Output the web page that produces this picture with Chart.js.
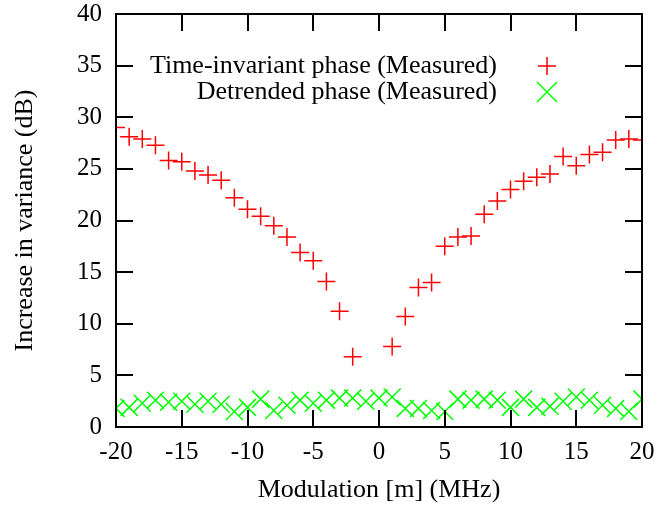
<!DOCTYPE html>
<html>
<head>
<meta charset="utf-8">
<script src="https://cdn.jsdelivr.net/npm/chart.js@4.4.1/dist/chart.umd.min.js"></script>
<style>
    body { margin: 0; background: #ffffff; }
    #wrap { width: 661px; height: 506px; }
</style>
</head>
<body>
<div id="wrap"><canvas id="varianceChart" width="661" height="506"></canvas></div>
<script>
// Modulation frequency (MHz) for each measurement
const modulationTimeInvariant = [
    -20, -19, -18, -17, -16, -15, -14, -13, -12, -11, -10, -9, -8, -7, -6, -5, -4, -3, -2,
    1, 2, 3, 4, 5, 6, 7, 8, 9, 10, 11, 12, 13, 14, 15, 16, 17, 18, 19, 20
];
const timeInvariantPhase = [
    29.0, 28.1, 27.9, 27.3, 25.8, 25.7, 24.8, 24.4, 23.9, 22.2, 21.1, 20.4, 19.5, 18.4, 16.9, 16.1, 14.1, 11.2, 6.8,
    7.8, 10.7, 13.5, 14.0, 17.5, 18.4, 18.5, 20.6, 21.9, 23.0, 23.8, 24.2, 24.5, 26.2, 25.3, 26.4, 26.6, 27.8, 27.9, 27.8
];

const modulationDetrended = [
    -20, -19, -18, -17, -16, -15, -14, -13, -12, -11, -10, -9, -8, -7, -6, -5, -4, -3, -2, -1,
    0, 1, 2, 3, 4, 5, 6, 7, 8, 9, 10, 11, 12, 13, 14, 15, 16, 17, 18, 19, 20
];
const detrendedPhase = [
    1.8, 1.9, 2.3, 2.6, 2.4, 2.5, 2.2, 2.5, 2.2, 1.5, 1.9, 2.7, 1.6, 2.1, 2.6, 2.3, 2.6, 2.8, 2.8, 2.5,
    2.8, 2.9, 1.8, 1.8, 1.6, 1.5, 2.7, 2.6, 2.7, 2.6, 1.9, 2.7, 1.9, 2.0, 2.5, 2.9, 2.6, 2.1, 1.8, 1.5, 2.7
];

const xTickValues = [-20, -15, -10, -5, 0, 5, 10, 15, 20];
const yTickValues = [0, 5, 10, 15, 20, 25, 30, 35, 40];

const serif = "'Liberation Serif', 'DejaVu Serif', serif";

function toPoints(xs, ys) {
    return xs.map((x, i) => ({ x: x, y: ys[i] }));
}

// gnuplot style frame with inward ticks on all four sides
const framePlugin = {
    id: 'frame',
    afterDraw(chart) {
        const ctx = chart.ctx;
        const area = chart.chartArea;
        const xs = chart.scales.x;
        const ys = chart.scales.y;
        const tick = 17;

        ctx.save();
        ctx.strokeStyle = '#000000';
        ctx.lineWidth = 2;
        ctx.beginPath();
        xTickValues.forEach(v => {
            const px = Math.round(xs.getPixelForValue(v));
            ctx.moveTo(px, area.bottom);
            ctx.lineTo(px, area.bottom - tick);
            ctx.moveTo(px, area.top);
            ctx.lineTo(px, area.top + tick);
        });
        yTickValues.forEach(v => {
            const py = Math.round(ys.getPixelForValue(v));
            ctx.moveTo(area.left, py);
            ctx.lineTo(area.left + tick, py);
            ctx.moveTo(area.right, py);
            ctx.lineTo(area.right - tick, py);
        });
        ctx.stroke();
        ctx.strokeRect(area.left, area.top, area.right - area.left, area.bottom - area.top);
        ctx.restore();
    }
};

// legend drawn inside the plot: text right-aligned, symbol on the right
const keyPlugin = {
    id: 'key',
    afterDraw(chart) {
        const ctx = chart.ctx;
        const area = chart.chartArea;
        const textRight = area.right - 145;
        const symX = area.right - 95;
        let y = area.top + 52;

        ctx.save();
        ctx.font = '26px ' + serif;
        ctx.textAlign = 'right';
        ctx.textBaseline = 'middle';
        chart.data.datasets.forEach(ds => {
            ctx.fillStyle = '#000000';
            ctx.fillText(ds.label, textRight, y);
            ctx.strokeStyle = ds.borderColor;
            ctx.lineWidth = 1.5;
            ctx.beginPath();
            if (ds.pointStyle === 'cross') {
                ctx.moveTo(symX - 9, y);
                ctx.lineTo(symX + 9, y);
                ctx.moveTo(symX, y - 9);
                ctx.lineTo(symX, y + 9);
            } else {
                ctx.moveTo(symX - 10, y - 10);
                ctx.lineTo(symX + 10, y + 10);
                ctx.moveTo(symX - 10, y + 10);
                ctx.lineTo(symX + 10, y - 10);
            }
            ctx.stroke();
            y += 26;
        });
        ctx.restore();
    }
};

const ctx = document.getElementById('varianceChart').getContext('2d');

new Chart(ctx, {
    type: 'scatter',
    data: {
        datasets: [
            {
                label: 'Time-invariant phase (Measured)',
                data: toPoints(modulationTimeInvariant, timeInvariantPhase),
                borderColor: '#ff0000',
                backgroundColor: '#ff0000',
                pointStyle: 'cross',
                pointRadius: 9,
                pointBorderWidth: 1.5
            },
            {
                label: 'Detrended phase (Measured)',
                data: toPoints(modulationDetrended, detrendedPhase),
                borderColor: '#00ff00',
                backgroundColor: '#00ff00',
                pointStyle: 'crossRot',
                pointRadius: 12,
                pointBorderWidth: 1.5
            }
        ]
    },
    options: {
        responsive: false,
        animation: false,
        layout: {
            padding: { left: 0, right: 19, top: 14, bottom: 0 }
        },
        plugins: {
            legend: { display: false },
            tooltip: { enabled: false }
        },
        scales: {
            x: {
                type: 'linear',
                min: -20,
                max: 20,
                afterFit: (scale) => {
                    scale.height = 79;
                    scale.paddingLeft = 0;
                    scale.paddingRight = 0;
                },
                grid: { display: false, drawTicks: false },
                border: { display: false },
                ticks: {
                    stepSize: 5,
                    padding: 10,
                    color: '#000000',
                    font: { family: serif, size: 25 }
                },
                title: {
                    display: true,
                    text: 'Modulation [m] (MHz)',
                    color: '#000000',
                    font: { family: serif, size: 26 },
                    padding: { top: 7, bottom: 0 }
                }
            },
            y: {
                min: 0,
                max: 40,
                afterFit: (scale) => {
                    scale.width = 116;
                    scale.paddingTop = 0;
                    scale.paddingBottom = 0;
                },
                grid: { display: false, drawTicks: false },
                border: { display: false },
                ticks: {
                    stepSize: 5,
                    padding: 14,
                    color: '#000000',
                    font: { family: serif, size: 25 }
                },
                title: {
                    display: true,
                    text: 'Increase in variance (dB)',
                    color: '#000000',
                    font: { family: serif, size: 26 },
                    padding: { top: 10, bottom: 0 }
                }
            }
        }
    },
    plugins: [framePlugin, keyPlugin]
});
</script>
</body>
</html>
